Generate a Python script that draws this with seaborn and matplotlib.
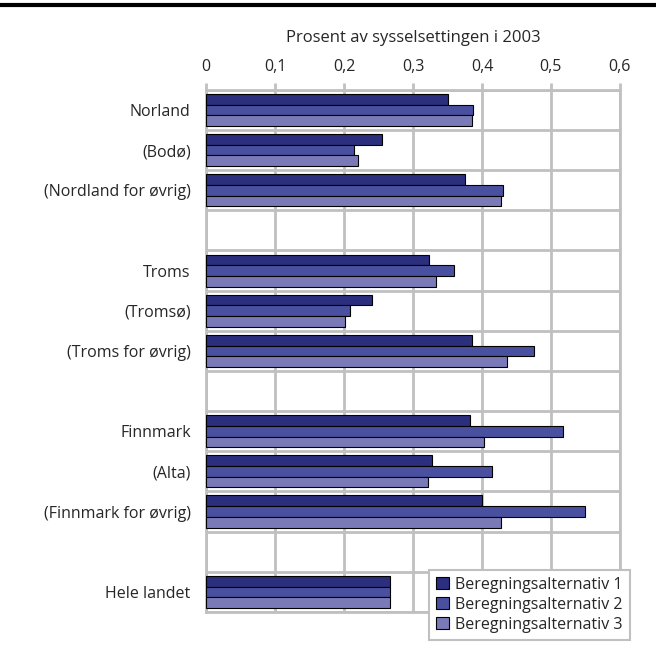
import pandas as pd
import matplotlib.pyplot as plt
import seaborn as sns

# rows of the chart (blank strings are the gaps between regions)
regions = ['Norland', '(Bodø)', '(Nordland for øvrig)', ' ',
           'Troms', '(Tromsø)', '(Troms for øvrig)', '  ',
           'Finnmark', '(Alta)', '(Finnmark for øvrig)', '   ',
           'Hele landet']
data_regions = ['Norland', '(Bodø)', '(Nordland for øvrig)',
                'Troms', '(Tromsø)', '(Troms for øvrig)',
                'Finnmark', '(Alta)', '(Finnmark for øvrig)',
                'Hele landet']
alt1 = [0.351, 0.255, 0.376, 0.323, 0.241, 0.386, 0.382, 0.328, 0.400, 0.267]
alt2 = [0.387, 0.215, 0.431, 0.360, 0.209, 0.475, 0.518, 0.415, 0.550, 0.267]
alt3 = [0.386, 0.220, 0.428, 0.334, 0.201, 0.437, 0.403, 0.322, 0.428, 0.267]
series = ['Beregningsalternativ 1', 'Beregningsalternativ 2', 'Beregningsalternativ 3']
xticks = [0, 0.1, 0.2, 0.3, 0.4, 0.5, 0.6]
xticklabels = ['0', '0,1', '0,2', '0,3', '0,4', '0,5', '0,6']

df = pd.DataFrame({'Region': data_regions * 3,
                   'Verdi': alt1 + alt2 + alt3,
                   'Serie': [s for s in series for _ in data_regions]})

sns.set_style('white')
plt.rcParams['font.family'] = ['Open Sans', 'DejaVu Sans']

fig = plt.figure(figsize=(6.56, 6.51), dpi=100)
ax = fig.add_axes([0.314, 0.060, 0.631, 0.802])

colors = ['#2b2f7e', '#4a50a0', '#7a7ab8']
sns.barplot(data=df, y='Region', x='Verdi', hue='Serie', order=regions,
            hue_order=series, palette=colors, orient='h', width=0.8,
            edgecolor='black', linewidth=0.8, saturation=1, ax=ax, zorder=3)

ax.set_xlim(0, 0.6)
ax.set_ylim(len(regions) - 0.5, -0.5)
ax.xaxis.tick_top()
ax.xaxis.set_label_position('top')
ax.set_xticks(xticks)
ax.set_xticklabels(xticklabels, fontsize=11.5)
ax.set_xlabel('Prosent av sysselsettingen i 2003', fontsize=12, labelpad=12)
ax.set_ylabel('')
ax.tick_params(axis='y', labelsize=11.5, length=0, pad=11)
ax.tick_params(axis='x', length=5, width=2, color='#c0c0c0', direction='out', pad=6)

# grid lines between rows and at x ticks
ax.set_yticks([i + 0.5 for i in range(-1, len(regions))], minor=True)
ax.grid(True, axis='x', color='#c0c0c0', linewidth=2, zorder=0)
ax.grid(True, axis='y', which='minor', color='#c0c0c0', linewidth=2, zorder=0)
ax.tick_params(axis='y', which='minor', length=6, width=2, color='#c0c0c0', direction='out')
for s in ax.spines.values():
    s.set_color('#c0c0c0')
    s.set_linewidth(2)

ax.legend(loc='lower right', bbox_to_anchor=(630 / 656, 11 / 651),
          bbox_transform=fig.transFigure, fontsize=11.5, frameon=True,
          fancybox=False, edgecolor='#c0c0c0', framealpha=1,
          handlelength=0.8, handleheight=0.8, handletextpad=0.4,
          borderpad=0.45, labelspacing=0.25, borderaxespad=0)
ax.get_legend().get_frame().set_linewidth(1.5)

# top rule
fig.add_artist(plt.Line2D([0, 1], [0.993, 0.993], color='black', linewidth=3,
                          transform=fig.transFigure))

fig.savefig('out.png', dpi=100)
